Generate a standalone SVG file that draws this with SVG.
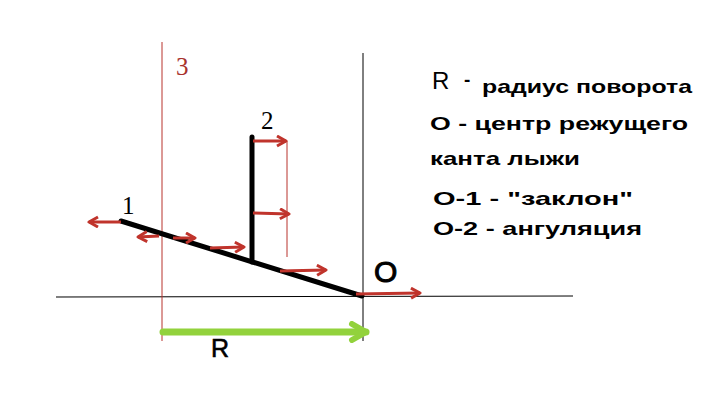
<svg xmlns="http://www.w3.org/2000/svg" width="712" height="414" viewBox="0 0 712 414">
<style>
.thin{stroke:#000;stroke-width:1;fill:none}
.redthin{stroke:#b8322c;stroke-width:1;fill:none}
.ski{stroke:#000;stroke-width:5;stroke-linecap:round;fill:none}
.arr{stroke:#c0342c;stroke-width:3;fill:none;marker-end:url(#ah)}
.lbl{font-family:"Liberation Serif",serif;font-size:25px;fill:#000}
.sans{font-family:"Liberation Sans",Arial,sans-serif;fill:#000}
.leg{font-family:"Liberation Sans",Arial,sans-serif;font-size:19px;font-weight:bold;fill:#000}
</style>
<defs>
<marker id="ah" markerWidth="14" markerHeight="14" refX="10" refY="6" orient="auto" markerUnits="userSpaceOnUse">
<path d="M1,1 L10,6 L1,11" fill="none" stroke="#c0342c" stroke-width="3" stroke-linejoin="round"/>
</marker>
<marker id="gh" markerWidth="22" markerHeight="22" refX="18" refY="11" orient="auto" markerUnits="userSpaceOnUse">
<path d="M4,3 L18,11 L4,19" fill="none" stroke="#92d23c" stroke-width="6" stroke-linecap="round" stroke-linejoin="round"/>
</marker>
</defs>
<rect width="712" height="414" fill="#fff"/>
<g id="axes">
<line class="thin" x1="56" y1="297" x2="573" y2="296"/>
<line class="thin" x1="363" y1="53" x2="363" y2="341"/>
<line class="redthin" x1="162" y1="42" x2="162" y2="341"/>
<line class="redthin" x1="287" y1="141" x2="287" y2="257"/>
</g>
<g id="skier">
<line class="ski" x1="121" y1="221" x2="362" y2="296"/>
<line class="ski" x1="252" y1="137" x2="252" y2="262"/>
</g>
<g id="connectors">
<line class="arr" x1="121" y1="222" x2="89" y2="222"/>
<line class="arr" x1="159" y1="236" x2="138" y2="237"/>
<line class="arr" x1="173" y1="238" x2="195" y2="238"/>
<line class="arr" x1="210" y1="248" x2="244" y2="247"/>
<line class="arr" x1="253" y1="141" x2="286" y2="141"/>
<line class="arr" x1="253" y1="213" x2="289" y2="214"/>
<line class="arr" x1="280" y1="271" x2="326" y2="270"/>
<line class="arr" x1="356" y1="294" x2="420" y2="293"/>
<line x1="163" y1="332" x2="366" y2="332" stroke="#92d23c" stroke-width="7" stroke-linecap="round" marker-end="url(#gh)"/>
</g>
<g id="labels">
<text class="lbl" x="122" y="214">1</text>
<text class="lbl" x="261" y="129">2</text>
<text class="lbl" x="176" y="75" style="fill:#a8322c">3</text>
<text class="sans" x="374" y="282" font-size="30" stroke="#000" stroke-width="1">O</text>
<text class="sans" x="211" y="357" font-size="25" stroke="#000" stroke-width="0.6">R</text>
</g>
<g id="legend">
<text class="sans" x="432" y="89" font-size="24">R</text>
<text class="leg" x="464" y="86">-</text>
<text class="leg" x="482" y="93" textLength="210" lengthAdjust="spacingAndGlyphs">радиус поворота</text>
<text class="leg" x="430" y="130" textLength="258" lengthAdjust="spacingAndGlyphs">O - центр режущего</text>
<text class="leg" x="430" y="165" textLength="150" lengthAdjust="spacingAndGlyphs">канта лыжи</text>
<text class="leg" x="433" y="205" textLength="200" lengthAdjust="spacingAndGlyphs">O-1 - "заклон"</text>
<text class="leg" x="433" y="235" textLength="209" lengthAdjust="spacingAndGlyphs">O-2 - ангуляция</text>
</g>
</svg>
